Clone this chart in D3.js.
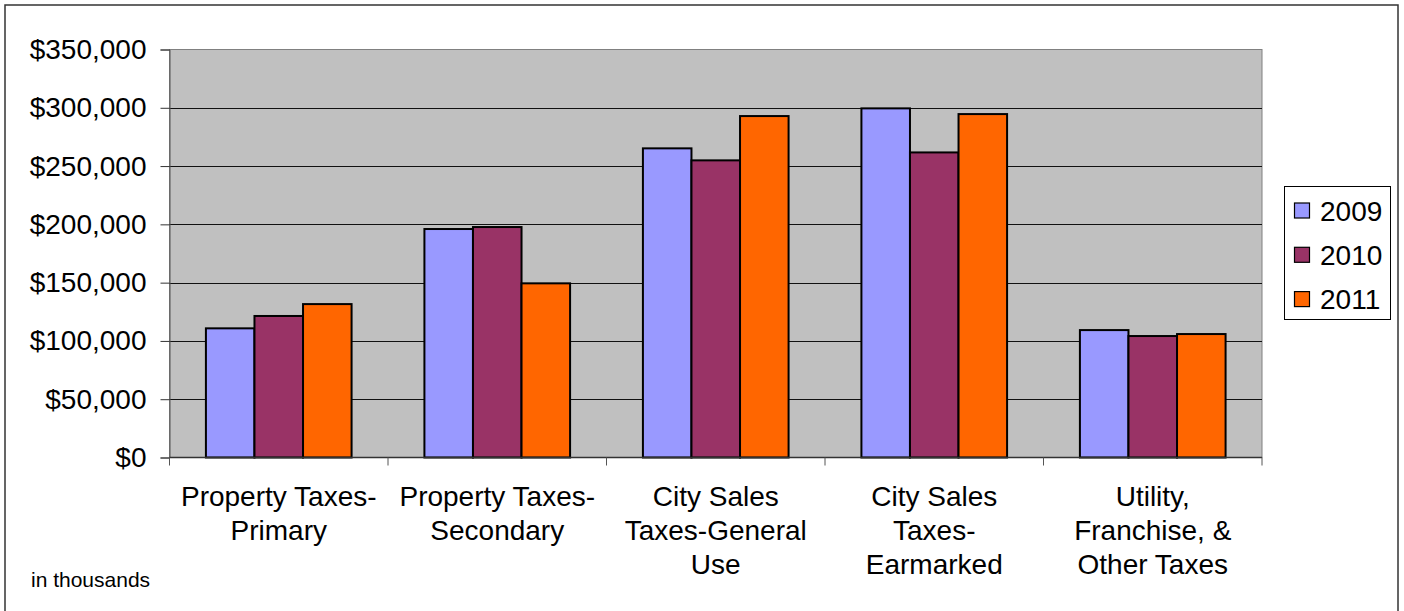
<!DOCTYPE html>
<html>
<head>
<meta charset="utf-8">
<script src="https://cdn.jsdelivr.net/npm/d3@7"></script>
<style>
  html, body { margin: 0; padding: 0; background: #fff; }
  svg { display: block; font-family: "Liberation Sans", Arial, sans-serif; }
</style>
</head>
<body>
<svg id="chart" width="1404" height="611"></svg>
<script>
// Tax revenue by category, in thousands of dollars
const categories = [
  ["Property Taxes-", "Primary"],
  ["Property Taxes-", "Secondary"],
  ["City Sales", "Taxes-General", "Use"],
  ["City Sales", "Taxes-", "Earmarked"],
  ["Utility,", "Franchise, &", "Other Taxes"]
];
const years = ["2009", "2010", "2011"];
const values2009 = [110800, 196000, 265200, 299500, 109300];
const values2010 = [121400, 197700, 254900, 261700, 104200];
const values2011 = [131600, 149400, 292900, 294600, 105900];
const yTicks = [0, 50000, 100000, 150000, 200000, 250000, 300000, 350000];
const colors = ["#9999FF", "#993366", "#FF6600"];

const seriesValues = [values2009, values2010, values2011];

const svg = d3.select("#chart");

// outer chart frame
svg.append("rect")
  .attr("x", 5).attr("y", 5)
  .attr("width", 1393).attr("height", 620)
  .attr("fill", "none").attr("stroke", "#333").attr("stroke-width", 1.5);

const plot = { left: 169.5, right: 1262, top: 49.5, bottom: 457.5 };

const x0 = d3.scaleBand()
  .domain(d3.range(categories.length))
  .range([plot.left, plot.right])
  .paddingInner(0).paddingOuter(0);

// three touching bars per category, gap of 1.5 bar widths split on both sides
const x1 = d3.scaleBand()
  .domain(d3.range(years.length))
  .range([0, x0.bandwidth()])
  .paddingInner(0)
  .paddingOuter(0.75);

const y = d3.scaleLinear().domain([0, 350000]).range([plot.bottom, plot.top]);

// plot background
svg.append("rect")
  .attr("x", plot.left).attr("y", plot.top)
  .attr("width", plot.right - plot.left).attr("height", plot.bottom - plot.top)
  .attr("fill", "#C0C0C0").attr("stroke", "#808080").attr("stroke-width", 1);

// horizontal gridlines
svg.append("g")
  .selectAll("line")
  .data(yTicks.filter(t => t > 0 && t < 350000))
  .join("line")
  .attr("x1", plot.left).attr("x2", plot.right)
  .attr("y1", d => Math.round(y(d)) + 0.5).attr("y2", d => Math.round(y(d)) + 0.5)
  .attr("stroke", "#111").attr("stroke-width", 1);

// bars
const groups = svg.append("g")
  .selectAll("g")
  .data(categories.map((c, i) => i))
  .join("g")
  .attr("transform", i => `translate(${x0(i)},0)`);

groups.selectAll("rect")
  .data(i => seriesValues.map((s, k) => ({ k, v: s[i] })))
  .join("rect")
  .attr("x", d => x1(d.k))
  .attr("y", d => y(d.v))
  .attr("width", x1.bandwidth())
  .attr("height", d => y(0) - y(d.v))
  .attr("fill", d => colors[d.k])
  .attr("stroke", "#000")
  .attr("stroke-width", 2);

// y axis
const yAxis = d3.axisLeft(y)
  .tickValues(yTicks)
  .tickSize(9)
  .tickPadding(14)
  .tickFormat(d => "$" + d3.format(",")(d));

const yg = svg.append("g")
  .attr("transform", `translate(${plot.left},0)`)
  .call(yAxis);
yg.select(".domain").attr("stroke", "#555");
yg.selectAll(".tick line").attr("stroke", "#333");
yg.selectAll(".tick text")
  .attr("font-size", 28)
  .attr("fill", "#000")
  .attr("font-family", "Liberation Sans, Arial, sans-serif");

// x axis line and category separators
const xg = svg.append("g");
xg.append("line")
  .attr("x1", plot.left).attr("x2", plot.right)
  .attr("y1", plot.bottom).attr("y2", plot.bottom)
  .attr("stroke", "#333").attr("stroke-width", 1.5);
xg.selectAll("line.sep")
  .data(d3.range(categories.length + 1))
  .join("line")
  .attr("class", "sep")
  .attr("x1", i => (i < categories.length ? x0(i) : plot.right))
  .attr("x2", i => (i < categories.length ? x0(i) : plot.right))
  .attr("y1", plot.bottom).attr("y2", plot.bottom + 8)
  .attr("stroke", "#555").attr("stroke-width", 1);

// category labels
const lineHeight = 34;
svg.append("g")
  .selectAll("text")
  .data(categories)
  .join("text")
  .attr("x", (d, i) => x0(i) + x0.bandwidth() / 2)
  .attr("y", 505.5)
  .attr("text-anchor", "middle")
  .attr("font-size", 28)
  .attr("fill", "#000")
  .selectAll("tspan")
  .data(d => d)
  .join("tspan")
  .attr("x", function () { return d3.select(this.parentNode).attr("x"); })
  .attr("dy", (d, j) => (j === 0 ? 0 : lineHeight))
  .text(d => d);

// unit note
svg.append("text")
  .attr("x", 31).attr("y", 587)
  .attr("font-size", 21)
  .attr("fill", "#000")
  .text("in thousands");

// legend
const legend = svg.append("g");
legend.append("rect")
  .attr("x", 1284.5).attr("y", 186.5)
  .attr("width", 106).attr("height", 133)
  .attr("fill", "#fff").attr("stroke", "#000").attr("stroke-width", 1);

const items = legend.selectAll("g.item")
  .data(years)
  .join("g")
  .attr("class", "item")
  .attr("transform", (d, i) => `translate(0,${210.5 + i * 44.3})`);

items.append("rect")
  .attr("x", 1294.5).attr("y", -7.5)
  .attr("width", 15).attr("height", 15)
  .attr("fill", (d, i) => colors[i])
  .attr("stroke", "#000").attr("stroke-width", 1.2);

items.append("text")
  .attr("x", 1320).attr("y", 0)
  .attr("dy", "0.36em")
  .attr("font-size", 28)
  .attr("fill", "#000")
  .text(d => d);
</script>
</body>
</html>
